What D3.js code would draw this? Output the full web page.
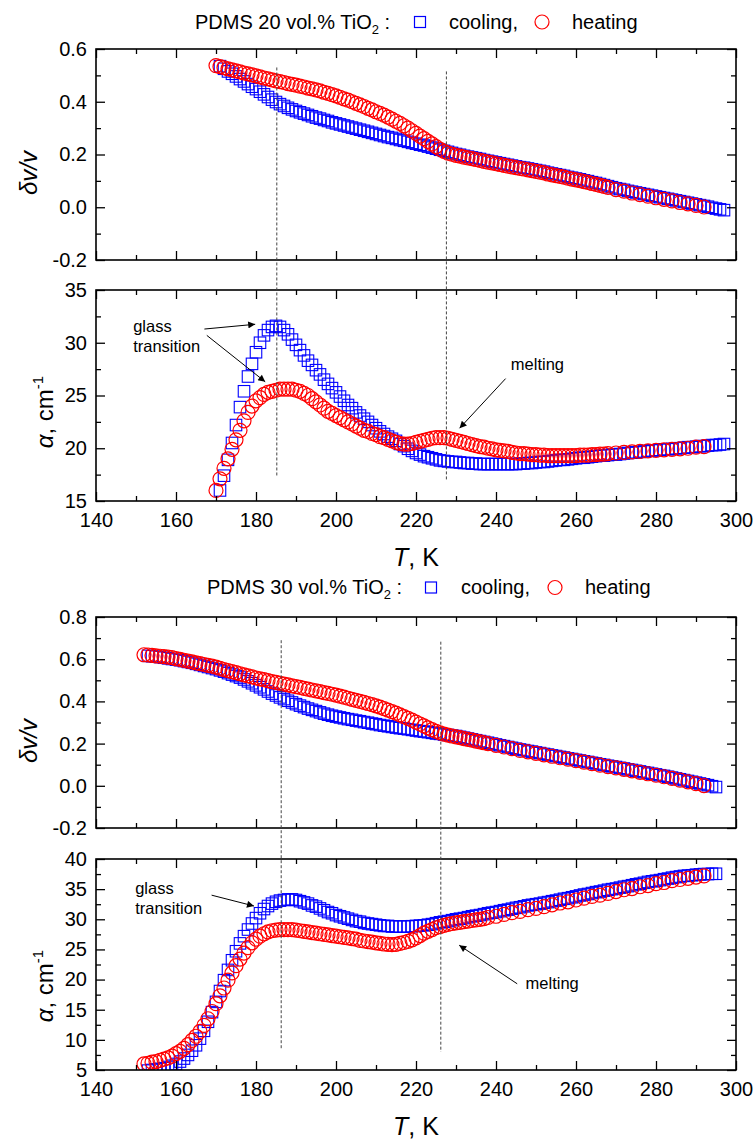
<!DOCTYPE html>
<html>
<head>
<meta charset="utf-8">
<script src="https://cdn.jsdelivr.net/npm/d3@7"></script>
<style>
  body { margin: 0; background: #fff; }
  text { font-family: "Liberation Sans", Arial, sans-serif; }
</style>
</head>
<body>
<div id="chart"></div>
<script>
// ---- data ----
// PDMS 20 vol.% TiO2
const cool20T = [171,172,173,174,175,176,177,178,179,180,181,182,183,184,185,186,187,188,189,190,
  191,192,193,194,195,196,197,198,199,200,201,202,203,204,205,206,207,208,209,210,
  211,212,213,214,215,216,217,218,219,220,221,222,223,224,225,226,227,228,229,230,
  231,232,233,234,235,236,237,238,239,240,241,242,243,244,245,246,247,248,249,250,
  251,252,253,254,255,256,257,258,259,260,261,262,263,264,265,266,267,268,269,270,
  271,272,273,274,275,276,277,278,279,280,281,282,283,284,285,286,287,288,289,290,
  291,292,293,294,295,296,297]
const cool20Dv = [.535,.525,.515,.506,.496,.486,.477,.467,.457,.448,
  .438,.428,.418,.408,.399,.391,.384,.377,.371,.365,
  .360,.355,.350,.345,.340,.336,.331,.327,.322,.318,
  .314,.310,.306,.302,.298,.294,.290,.286,.282,.278,
  .274,.270,.266,.263,.259,.255,.252,.248,.244,.241,
  .237,.234,.230,.226,.222,.218,.214,.210,.206,.202,
  .199,.195,.192,.189,.186,.183,.179,.176,.173,.170,
  .167,.164,.161,.158,.155,.152,.150,.147,.144,.141,
  .138,.135,.131,.128,.125,.122,.119,.115,.112,.109,
  .106,.102,.099,.095,.092,.088,.084,.080,.076,.072,
  .069,.066,.062,.059,.056,.053,.050,.047,.044,.041,
  .038,.035,.032,.029,.026,.023,.020,.017,.014,.011,
  .008,.005,.002,-.002,-.005,-.008,-.011]
const cool20A = [16.0,17.4,18.9,20.5,22.2,23.9,25.4,26.8,28.0,29.1,
  30.0,30.7,31.2,31.5,31.6,31.5,31.2,30.8,30.3,29.8,
  29.3,28.8,28.3,27.9,27.4,27.0,26.5,26.1,25.7,25.3,
  24.9,24.5,24.1,23.8,23.4,23.1,22.8,22.5,22.2,21.9,
  21.6,21.35,21.1,20.9,20.7,20.4,20.2,19.95,19.75,19.55,
  19.4,19.25,19.15,19.05,18.95,18.85,18.8,18.75,18.7,18.7,
  18.65,18.6,18.6,18.55,18.55,18.5,18.5,18.5,18.5,18.5,
  18.5,18.5,18.5,18.5,18.5,18.55,18.55,18.6,18.6,18.65,
  18.7,18.7,18.75,18.8,18.85,18.9,18.9,18.95,19.0,19.05,
  19.1,19.1,19.15,19.2,19.25,19.3,19.3,19.35,19.4,19.4,
  19.45,19.5,19.55,19.6,19.6,19.65,19.7,19.75,19.8,19.8,
  19.85,19.9,19.9,19.95,20.0,20.0,20.05,20.1,20.1,20.15,
  20.2,20.2,20.25,20.3,20.3,20.35,20.4]

const heat20T = [170,171,172,173,174,175,176,177,178,179,180,181,182,183,184,185,186,187,188,189,
  190,191,192,193,194,195,196,197,198,199,200,201,202,203,204,205,206,207,208,209,
  210,211,212,213,214,215,216,217,218,219,220,221,222,223,224,225,226,227,228,229,
  230,231,232,233,234,235,236,237,238,239,240,241,242,243,244,245,246,247,248,249,
  250,251,252,253,254,255,256,257,258,259,260,261,262,263,264,265,266,267,268,
  270,272,274,276,278,280,282,284,286,288,290,292]
const heat20Dv = [.537,.533,.529,.525,.521,.517,.513,.509,.506,.502,
  .498,.494,.490,.487,.483,.479,.476,.473,.469,.466,
  .463,.459,.456,.452,.449,.445,.441,.436,.432,.427,
  .422,.417,.411,.406,.400,.394,.388,.382,.375,.369,
  .362,.356,.349,.342,.334,.326,.318,.309,.300,.290,
  .280,.270,.260,.250,.240,.230,.220,.212,.205,.201,
  .197,.194,.190,.187,.184,.181,.178,.174,.171,.168,
  .165,.162,.159,.156,.153,.150,.147,.145,.142,.139,
  .136,.133,.130,.126,.123,.120,.117,.114,.110,.107,
  .104,.101,.097,.094,.090,.087,.083,.079,.075,
  .067,.061,.054,.048,.042,.036,.030,.024,.018,.013,.007,.001]
const heat20A = [16.0,17.1,18.1,19.0,19.9,20.8,21.7,22.6,23.4,24.0,
  24.5,24.8,25.1,25.3,25.4,25.5,25.6,25.6,25.6,25.6,
  25.5,25.4,25.2,25.0,24.7,24.4,24.1,23.8,23.5,23.3,
  23.1,22.9,22.7,22.5,22.3,22.1,21.9,21.7,21.6,21.4,
  21.3,21.1,21.0,20.85,20.7,20.55,20.45,20.4,20.4,20.45,
  20.55,20.65,20.75,20.85,20.95,21.0,21.0,21.0,20.95,20.85,
  20.75,20.65,20.55,20.45,20.35,20.25,20.15,20.1,20.0,19.95,
  19.85,19.8,19.75,19.7,19.6,19.55,19.5,19.5,19.45,19.4,
  19.4,19.35,19.35,19.3,19.3,19.3,19.3,19.3,19.3,19.3,
  19.3,19.35,19.35,19.35,19.4,19.4,19.45,19.45,19.5,
  19.55,19.6,19.65,19.7,19.75,19.8,19.85,19.9,19.95,20.0,20.1,20.15]

// PDMS 30 vol.% TiO2
const cool30T = [153,154,155,156,157,158,159,160,161,162,163,164,165,166,167,168,169,170,171,172,
  173,174,175,176,177,178,179,180,181,182,183,184,185,186,187,188,189,190,191,192,
  193,194,195,196,197,198,199,200,201,202,203,204,205,206,207,208,209,210,211,212,
  213,214,215,216,217,218,219,220,221,222,223,224,225,226,227,228,229,230,231,232,
  233,234,235,236,237,238,239,240,241,242,243,244,245,246,247,248,249,250,251,252,
  253,254,255,256,257,258,259,260,261,262,263,264,265,266,267,268,269,270,271,272,
  273,274,275,276,277,278,279,280,281,282,283,284,285,286,287,288,289,290,291,292,
  293,294,295]
const cool30Dv = [.616,.614,.612,.610,.607,.604,.601,.598,.595,.591,
  .587,.583,.578,.573,.568,.563,.558,.553,.547,.541,
  .534,.527,.520,.513,.504,.495,.486,.476,.467,.457,
  .447,.437,.428,.419,.411,.403,.395,.387,.380,.373,
  .366,.360,.354,.348,.342,.337,.332,.328,.324,.320,
  .316,.313,.309,.306,.302,.299,.295,.292,.288,.285,
  .282,.279,.276,.273,.271,.268,.265,.262,.259,.257,
  .254,.251,.248,.246,.243,.241,.238,.236,.232,.228,
  .224,.220,.216,.212,.208,.204,.200,.196,.192,.188,
  .184,.180,.176,.172,.169,.165,.162,.158,.155,.151,
  .148,.144,.141,.137,.134,.130,.127,.123,.120,.116,
  .113,.109,.106,.102,.099,.095,.092,.089,.085,.082,
  .078,.075,.071,.068,.064,.061,.057,.054,.050,.047,
  .043,.039,.035,.031,.027,.023,.019,.015,.011,.007,
  .003,-.002,-.006]
const cool30A = [4.9,5.0,5.1,5.2,5.3,5.5,5.7,6.0,6.4,6.9,
  7.5,8.2,9.1,10.2,11.5,13.0,14.6,16.3,18.1,19.9,
  21.6,23.2,24.7,26.0,27.2,28.3,29.3,30.2,31.0,31.7,
  32.2,32.6,32.9,33.1,33.2,33.3,33.3,33.2,33.0,32.8,
  32.6,32.3,32.1,31.8,31.5,31.2,31.0,30.7,30.5,30.3,
  30.1,29.9,29.7,29.6,29.4,29.3,29.2,29.1,29.0,28.9,
  28.9,28.8,28.8,28.8,28.8,28.8,28.85,28.9,28.95,29.0,
  29.1,29.2,29.35,29.5,29.6,29.7,29.85,30.0,30.1,30.2,
  30.35,30.5,30.6,30.7,30.85,31.0,31.1,31.2,31.35,31.5,
  31.6,31.75,31.9,32.0,32.15,32.3,32.4,32.5,32.6,32.75,
  32.85,33.0,33.1,33.25,33.4,33.5,33.65,33.8,33.95,34.1,
  34.2,34.35,34.5,34.6,34.75,34.9,35.0,35.1,35.25,35.4,
  35.5,35.65,35.8,35.9,36.05,36.2,36.3,36.4,36.5,36.65,
  36.75,36.9,37.0,37.1,37.2,37.25,37.3,37.4,37.45,37.5,
  37.5,37.55,37.55]

const heat30T = [152,153,154,155,156,157,158,159,160,161,162,163,164,165,166,167,168,169,170,
  171,172,173,174,175,176,177,178,179,180,181,182,183,184,185,186,187,188,189,190,
  191,192,193,194,195,196,197,198,199,200,201,202,203,204,205,206,207,208,209,210,
  211,212,213,214,215,216,217,218,219,220,221,222,223,224,225,226,227,228,229,230,
  231,232,233,234,235,236,237,238,
  240,242,244,246,248,250,252,254,256,258,260,262,264,266,268,270,272,274,276,278,
  280,282,284,286,288,290,292]
const heat30Dv = [.621,.620,.618,.616,.614,.612,.610,.607,.603,
  .599,.595,.591,.587,.583,.579,.575,.571,.567,.562,
  .557,.551,.546,.541,.536,.531,.526,.521,.516,.511,
  .507,.503,.498,.494,.490,.486,.482,.478,.474,.470,
  .466,.462,.458,.454,.450,.446,.442,.438,.434,.430,
  .425,.420,.415,.410,.405,.400,.395,.390,.385,.379,
  .373,.366,.359,.352,.344,.336,.328,.320,.311,.302,
  .293,.284,.275,.266,.258,.251,.245,.240,.236,.232,
  .228,.224,.220,.216,.212,.208,.204,.200,
  .192,.184,.176,.168,.161,.154,.147,.140,.133,.126,.119,.112,.105,.098,.091,.085,.078,.071,.064,.057,
  .050,.043,.035,.027,.019,.010,.001]
const heat30A = [6.0,6.1,6.3,6.4,6.6,6.8,7.0,7.3,7.7,
  8.1,8.6,9.2,9.9,10.6,11.4,12.4,13.5,14.7,16.0,
  17.3,18.6,19.9,21.1,22.3,23.4,24.4,25.3,26.1,26.7,
  27.2,27.6,27.9,28.1,28.2,28.3,28.3,28.3,28.3,28.2,
  28.1,28.0,27.9,27.8,27.7,27.6,27.5,27.4,27.3,27.2,
  27.1,27.0,26.9,26.8,26.7,26.5,26.4,26.3,26.2,26.1,
  26.0,25.9,25.85,25.8,25.85,26.0,26.15,26.35,26.6,26.9,
  27.3,27.7,28.0,28.3,28.6,28.8,29.0,29.15,29.3,29.4,
  29.5,29.6,29.7,29.8,29.9,30.0,30.1,30.3,
  30.5,30.8,31.1,31.3,31.6,31.8,32.1,32.4,32.7,32.9,33.2,33.5,33.8,34.0,34.3,34.6,34.9,35.1,35.4,35.6,
  35.9,36.1,36.4,36.6,36.8,37.0,37.2]

// ticks
const xMajor = [140,160,180,200,220,240,260,280,300]
const xMinor = [150,170,190,210,230,250,270,290]
const dvMajor20 = [-0.2,0,0.2,0.4,0.6], dvMinor20 = [-0.1,0.1,0.3,0.5]
const aMajor20 = [15,20,25,30,35], aMinor20 = [17.5,22.5,27.5,32.5]
const dvMajor30 = [-0.2,0,0.2,0.4,0.6,0.8], dvMinor30 = [-0.1,0.1,0.3,0.5,0.7]
const aMajor30 = [5,10,15,20,25,30,35,40], aMinor30 = [7.5,12.5,17.5,22.5,27.5,32.5,37.5]

// transition temperatures (dashed guide lines)
const tg20 = 185.2, tm20 = 227.6
const tg30 = 186.3, tm30 = 226.2

// ---- drawing ----
const BLUE = "#0000ff", RED = "#ff0000"
const SQ = 11.5, CR = 7
const MAJ = 9, MIN = 5

const svg = d3.select("#chart").append("svg")
    .attr("width", 756)
    .attr("height", 1140)
const defs = svg.append("defs")
defs.append("marker")
    .attr("id", "arrow")
    .attr("viewBox", "0 0 10 10")
    .attr("refX", 10).attr("refY", 5)
    .attr("markerWidth", 9).attr("markerHeight", 7)
    .attr("markerUnits", "userSpaceOnUse")
    .attr("orient", "auto")
  .append("path")
    .attr("d", "M0,0L10,5L0,10z")
    .attr("fill", "#000")

const x = d3.scaleLinear().domain([140, 300]).range([96, 736])
const X0 = x.range()[0], X1 = x.range()[1]

function styleAxis(g) {
    g.select(".domain").remove()
    g.selectAll("line").attr("stroke", "#000").attr("stroke-width", 1.3)
    g.selectAll("text").attr("font-size", 20).attr("font-family", '"Liberation Sans", Arial, sans-serif')
}

function drawPanel(p) {
    const y = d3.scaleLinear().domain(p.domain).range([p.bottom, p.top])
    const g = svg.append("g")
    const cid = "clip" + p.id
    defs.append("clipPath").attr("id", cid).append("rect")
        .attr("x", X0).attr("y", p.top)
        .attr("width", X1 - X0).attr("height", p.bottom - p.top)

    const marks = g.append("g").attr("clip-path", "url(#" + cid + ")")
    marks.append("g").selectAll("rect")
        .data(d3.zip(p.coolT, p.coolV))
        .join("rect")
        .attr("x", d => x(d[0]) - SQ / 2)
        .attr("y", d => y(d[1]) - SQ / 2)
        .attr("width", SQ).attr("height", SQ)
        .attr("fill", "none").attr("stroke", BLUE).attr("stroke-width", 1.1)
    marks.append("g").selectAll("circle")
        .data(d3.zip(p.heatT, p.heatV))
        .join("circle")
        .attr("cx", d => x(d[0]))
        .attr("cy", d => y(d[1]))
        .attr("r", CR)
        .attr("fill", "none").attr("stroke", RED).attr("stroke-width", 1.2)

    // axes, ticks inward on all four sides
    g.append("g").attr("transform", `translate(${X0},0)`)
        .call(d3.axisLeft(y).tickValues(p.major).tickSize(-MAJ).tickPadding(9).tickFormat(p.fmt)).call(styleAxis)
    g.append("g").attr("transform", `translate(${X0},0)`)
        .call(d3.axisLeft(y).tickValues(p.minor).tickSize(-MIN).tickFormat("")).call(styleAxis)
    g.append("g").attr("transform", `translate(${X1},0)`)
        .call(d3.axisRight(y).tickValues(p.major).tickSize(-MAJ).tickFormat("")).call(styleAxis)
    g.append("g").attr("transform", `translate(${X1},0)`)
        .call(d3.axisRight(y).tickValues(p.minor).tickSize(-MIN).tickFormat("")).call(styleAxis)
    g.append("g").attr("transform", `translate(0,${p.top})`)
        .call(d3.axisTop(x).tickValues(xMajor).tickSize(-MAJ).tickFormat("")).call(styleAxis)
    g.append("g").attr("transform", `translate(0,${p.top})`)
        .call(d3.axisTop(x).tickValues(xMinor).tickSize(-MIN).tickFormat("")).call(styleAxis)
    g.append("g").attr("transform", `translate(0,${p.bottom})`)
        .call(d3.axisBottom(x).tickValues(xMajor).tickSize(-MAJ).tickPadding(12)
            .tickFormat(p.xlabels ? d3.format("d") : "")).call(styleAxis)
    g.append("g").attr("transform", `translate(0,${p.bottom})`)
        .call(d3.axisBottom(x).tickValues(xMinor).tickSize(-MIN).tickFormat("")).call(styleAxis)

    g.append("rect")
        .attr("x", X0).attr("y", p.top)
        .attr("width", X1 - X0).attr("height", p.bottom - p.top)
        .attr("fill", "none").attr("stroke", "#000").attr("stroke-width", 1.6)

    // y label
    const lab = g.append("text")
        .attr("transform", `translate(${p.labX},${p.labY}) rotate(-90)`)
        .attr("text-anchor", "middle")
        .attr("font-size", 24)
    if (p.label === "dv") {
        lab.attr("font-style", "italic").text("\u03B4v/v")
    } else {
        lab.append("tspan").attr("font-style", "italic").text("\u03B1")
        lab.append("tspan").text(", cm")
        lab.append("tspan").attr("font-size", 15).attr("dy", -10).text("-1")
    }
    if (p.xlabels) {
        const t = g.append("text")
            .attr("x", (X0 + X1) / 2).attr("y", p.bottom + p.xlabGap)
            .attr("text-anchor", "middle").attr("font-size", 25)
        t.append("tspan").attr("font-style", "italic").text("T")
        t.append("tspan").text(", K")
    }
    return y
}

const fmt1 = d => d.toFixed(1)
const fmt0 = d3.format("d")

const y1 = drawPanel({id: 1, top: 49, bottom: 260, domain: [-0.2, 0.6], major: dvMajor20, minor: dvMinor20, fmt: fmt1,
    coolT: cool20T, coolV: cool20Dv, heatT: heat20T, heatV: heat20Dv, label: "dv", labX: 37, labY: 173})
const y2 = drawPanel({id: 2, top: 290, bottom: 501, domain: [15, 35], major: aMajor20, minor: aMinor20, fmt: fmt0,
    coolT: cool20T, coolV: cool20A, heatT: heat20T, heatV: heat20A, label: "a", labX: 53, labY: 412,
    xlabels: true, xlabGap: 65})
const y3 = drawPanel({id: 3, top: 617, bottom: 828, domain: [-0.2, 0.8], major: dvMajor30, minor: dvMinor30, fmt: fmt1,
    coolT: cool30T, coolV: cool30Dv, heatT: heat30T, heatV: heat30Dv, label: "dv", labX: 37, labY: 741})
const y4 = drawPanel({id: 4, top: 859, bottom: 1070, domain: [5, 40], major: aMajor30, minor: aMinor30, fmt: fmt0,
    coolT: cool30T, coolV: cool30A, heatT: heat30T, heatV: heat30A, label: "a", labX: 53, labY: 986,
    xlabels: true, xlabGap: 65})

// dashed guide lines spanning both panels of a sample
function guide(T, yTop, vTop, yBot, vBot) {
    svg.append("line")
        .attr("x1", x(T)).attr("x2", x(T))
        .attr("y1", yTop(vTop)).attr("y2", yBot(vBot))
        .attr("stroke", "#444").attr("stroke-width", 1)
        .attr("stroke-dasharray", "3,2")
}
guide(tg20, y1, 0.53, y2, 17.3)
guide(tm20, y1, 0.515, y2, 17.0)
guide(tg30, y3, 0.69, y4, 8.3)
guide(tm30, y3, 0.683, y4, 8.0)

// annotations
function note(y, lines, T, v0, dv) {
    const t = svg.append("text").attr("font-size", 16.5).attr("fill", "#000")
    lines.forEach((s, i) => t.append("tspan").attr("x", x(T)).attr("y", y(v0 - i * dv)).text(s))
}
function arrow(y, T0, v0, T1, v1) {
    svg.append("line")
        .attr("x1", x(T0)).attr("y1", y(v0))
        .attr("x2", x(T1)).attr("y2", y(v1))
        .attr("stroke", "#000").attr("stroke-width", 1)
        .attr("marker-end", "url(#arrow)")
}
note(y2, ["glass", "transition"], 149.3, 31.05, 1.9)
arrow(y2, 167.1, 31.3, 179.8, 31.75)
arrow(y2, 167.7, 30.7, 182.3, 26.3)
note(y2, ["melting"], 243.7, 27.4, 0)
arrow(y2, 242.4, 26.6, 230.9, 21.9)

note(y4, ["glass", "transition"], 149.8, 34.25, 3.3)
arrow(y4, 168.9, 34.0, 179.5, 32.2)
note(y4, ["melting"], 247.4, 18.4, 0)
arrow(y4, 245.3, 19.3, 230.8, 25.7)

// legends
function legend(label, x0, yb, sqX, coolX, cirX, heatX, cy) {
    const t = svg.append("text").attr("x", x0).attr("y", yb).attr("font-size", 20)
    t.append("tspan").text(label)
    t.append("tspan").attr("font-size", 13).attr("dy", 5).text("2")
    t.append("tspan").attr("dy", -5).text(" :")
    svg.append("rect").attr("x", sqX - 5.5).attr("y", cy - 5.5).attr("width", 11).attr("height", 11)
        .attr("fill", "none").attr("stroke", BLUE).attr("stroke-width", 1.2)
    svg.append("text").attr("x", coolX).attr("y", yb).attr("font-size", 20).text("cooling,")
    svg.append("circle").attr("cx", cirX).attr("cy", cy).attr("r", 7)
        .attr("fill", "none").attr("stroke", RED).attr("stroke-width", 1.2)
    svg.append("text").attr("x", heatX).attr("y", yb).attr("font-size", 20).text("heating")
}
legend("PDMS 20 vol.% TiO", 195, 28.5, 420, 449, 542, 572, 22)
legend("PDMS 30 vol.% TiO", 207, 594, 431, 461, 555, 585, 587.5)
</script>
</body>
</html>
